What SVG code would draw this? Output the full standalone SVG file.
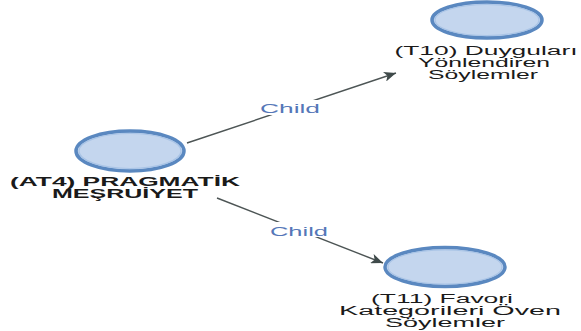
<svg xmlns="http://www.w3.org/2000/svg" width="581" height="331" viewBox="0 0 581 331">
  <defs>
    <marker id="arrow" viewBox="0 0 12 10" refX="12" refY="5" markerWidth="12" markerHeight="10" markerUnits="userSpaceOnUse" orient="auto">
      <path d="M0,0 L12,5 L0,10 L3,5 Z" fill="#3f4a4a"/>
    </marker>
  </defs>
  <style>
    .node-shape { fill: #c4d6ee; stroke: #5a88c0; stroke-width: 3.5; }
    .node-inner { fill: none; stroke: #a9c4e6; stroke-width: 1.2; }
    .node-label { font-family: "Liberation Sans", Arial, sans-serif; font-size: 12.5px; fill: #1a1a1a; text-anchor: middle; }
    .bold { font-weight: bold; font-size: 13px; }
    .edge { stroke: #4d5555; stroke-width: 1.4; fill: none; marker-end: url(#arrow); }
    .edge-label { font-family: "Liberation Sans", Arial, sans-serif; font-size: 12.5px; fill: #5577b8; text-anchor: middle; }
    .label-bg { fill: #ffffff; }
  </style>
  <rect width="581" height="331" fill="#ffffff"/>

  <g id="connectors">
    <line class="edge" x1="187" y1="143" x2="396" y2="73"/>
    <line class="edge" x1="217" y1="198" x2="383" y2="263"/>
    <rect class="label-bg" x="261" y="100" width="60" height="15"/>
    <text class="edge-label" x="290" y="113" textLength="60" lengthAdjust="spacingAndGlyphs">Child</text>
    <rect class="label-bg" x="270" y="222" width="60" height="15"/>
    <text class="edge-label" x="299" y="236" textLength="58" lengthAdjust="spacingAndGlyphs">Child</text>
  </g>

  <g id="node-AT4">
    <ellipse class="node-shape" cx="130" cy="151" rx="54" ry="20"/>
    <ellipse class="node-inner" cx="130" cy="151" rx="51" ry="17.5"/>
    <text class="node-label bold" x="125" y="186" textLength="230" lengthAdjust="spacingAndGlyphs">(AT4) PRAGMATİK</text>
    <text class="node-label bold" x="125" y="198" textLength="146" lengthAdjust="spacingAndGlyphs">MEŞRUİYET</text>
  </g>

  <g id="node-T10">
    <ellipse class="node-shape" cx="487" cy="20" rx="55" ry="18"/>
    <ellipse class="node-inner" cx="487" cy="20" rx="52" ry="15.5"/>
    <text class="node-label" x="486" y="55" textLength="183" lengthAdjust="spacingAndGlyphs">(T10) Duyguları</text>
    <text class="node-label" x="484" y="67" textLength="132" lengthAdjust="spacingAndGlyphs">Yönlendiren</text>
    <text class="node-label" x="483" y="79" textLength="110" lengthAdjust="spacingAndGlyphs">Söylemler</text>
  </g>

  <g id="node-T11">
    <ellipse class="node-shape" cx="445" cy="267" rx="60" ry="19.5"/>
    <ellipse class="node-inner" cx="445" cy="267" rx="57" ry="17"/>
    <text class="node-label" x="442" y="303" textLength="142" lengthAdjust="spacingAndGlyphs">(T11) Favori</text>
    <text class="node-label" x="450" y="315" textLength="222" lengthAdjust="spacingAndGlyphs">Kategorileri Öven</text>
    <text class="node-label" x="445" y="327" textLength="120" lengthAdjust="spacingAndGlyphs">Söylemler</text>
  </g>
</svg>
